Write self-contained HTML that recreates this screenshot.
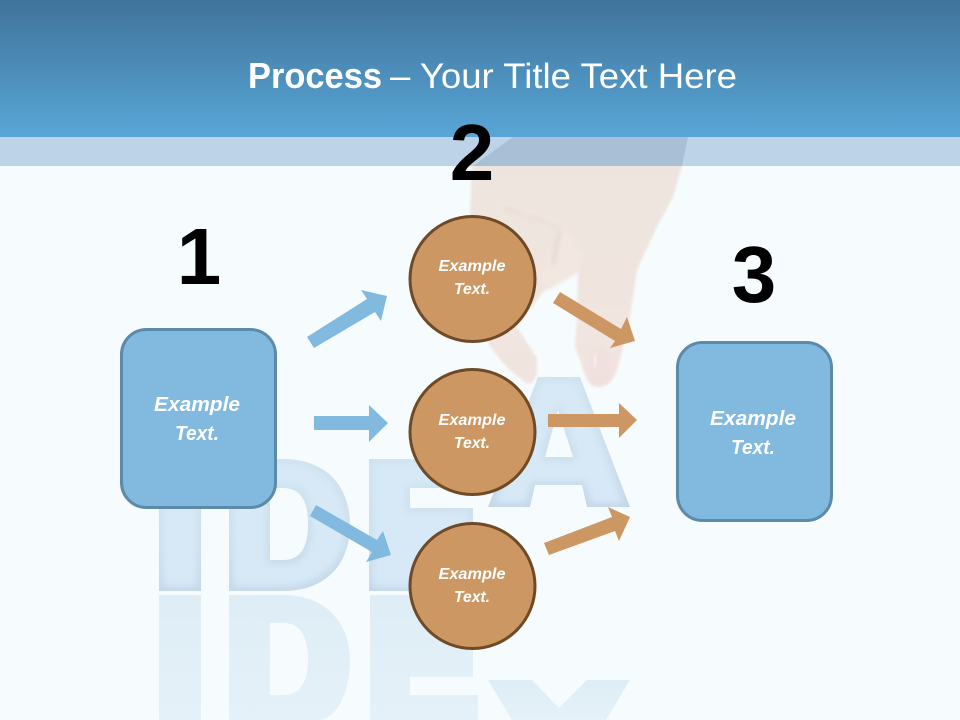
<!DOCTYPE html>
<html><head><meta charset="utf-8"><style>html,body{margin:0;padding:0;background:#f6fcfd}svg{display:block}</style></head>
<body>
<svg xmlns="http://www.w3.org/2000/svg" width="960" height="720" viewBox="0 0 960 720" font-family="'Liberation Sans',sans-serif">
<defs>
<linearGradient id="hd" x1="0" y1="0" x2="0" y2="1"><stop offset="0" stop-color="#40739a"/><stop offset="1" stop-color="#58a6d7"/></linearGradient>
<linearGradient id="hand" x1="0" y1="0" x2="0" y2="1"><stop offset="0" stop-color="#ece4de"/><stop offset=".5" stop-color="#efe5de"/><stop offset="1" stop-color="#f1e4e0"/></linearGradient>
<linearGradient id="let" x1="0" y1="0" x2="0" y2="1"><stop offset="0" stop-color="#cfe2f0"/><stop offset=".7" stop-color="#cbdeed"/><stop offset="1" stop-color="#c4d7e8"/></linearGradient>
<linearGradient id="ref" x1="0" y1="0" x2="0" y2="1"><stop offset="0" stop-color="#deedf6"/><stop offset="1" stop-color="#e5f1f8"/></linearGradient>
<filter id="b1" x="-10%" y="-10%" width="120%" height="120%"><feGaussianBlur stdDeviation="1.2"/></filter>
<filter id="b3" x="-40%" y="-40%" width="180%" height="180%"><feGaussianBlur stdDeviation="2.500"/></filter>
<filter id="bev" x="-5%" y="-5%" width="110%" height="110%">
<feMorphology in="SourceAlpha" operator="erode" radius="4"/>
<feGaussianBlur stdDeviation="4" result="a"/>
<feFlood flood-color="#d7e9f6"/>
<feComposite in2="a" operator="in"/>
<feComposite in2="SourceAlpha" operator="in" result="l"/>
<feMerge><feMergeNode in="SourceGraphic"/><feMergeNode in="l"/></feMerge>
</filter>
</defs>
<rect width="960" height="720" fill="#f6fcfd"/>

<!-- IDEA reflection -->
<g fill="url(#ref)" fill-rule="evenodd">
<rect x="159" y="595" width="42" height="125"/>
<path d="M229 595H283C325 595 350 622 350 660C350 695 335 720 318 720H229ZM270 623V695H283C300 695 308 682 308 660C308 636 300 623 283 623Z"/>
<path d="M370 595H473V677H410V695H478V720H370Z"/>
<path d="M488 680H532L559 708L587 680H630L606 720H512Z"/>
</g>
<!-- IDEA -->
<g fill="url(#let)" fill-rule="evenodd" filter="url(#bev)">
<rect x="159" y="458" width="42" height="133"/>
<path d="M229 459H283C325 459 350 485 350 525C350 565 325 591 283 591H229ZM270 488V560H283C300 560 308 548 308 524C308 500 300 488 283 488Z"/>
<path d="M369 459H473V488H410V508H473V591H369Z"/>
<path d="M538 377H580L630 507H587L582 485H535L530 507H488ZM558 410L545 457H573Z"/>
</g>
<!-- hand -->
<path d="M513 137L472 165L470 213L480 300L488 343C498 358 510 372 520 378C526 386 534 386 537 373L537 358L517 327L543 292L560 280L578 272L577 317L575 347L587 380C592 390 610 392 617 370L623 347L630 317L637 270L657 227L673 197L682 166L688 137Z" fill="url(#hand)" filter="url(#b1)"/>
<path d="M510 212C530 222 548 222 562 232C552 245 545 262 540 280L548 290L578 272L584 255C575 240 565 232 558 222C540 212 525 208 510 212Z" fill="#f3e7e1" filter="url(#b3)"/>
<path d="M503 208C520 214 545 220 560 228" fill="none" stroke="#e6dbd5" stroke-width="3" filter="url(#b3)"/>
<path d="M560 232C556 245 555 255 553 265" fill="none" stroke="#ddd2cd" stroke-width="2.500" filter="url(#b3)"/>
<ellipse cx="600" cy="366" rx="14" ry="19" fill="#f0e1df" filter="url(#b1)"/>
<path d="M596 354L594 367" stroke="#fbf4f3" stroke-width="2" fill="none" filter="url(#b1)"/>

<!-- header -->
<rect width="960" height="137" fill="url(#hd)"/>
<rect y="137" width="960" height="29" fill="#bdd4e8"/>
<path d="M513 137H688L682 166H473Z" fill="#a8bfd6"/>

<!-- title -->
<text x="248" y="88" font-size="36" font-weight="bold" fill="#fff" textLength="134" lengthAdjust="spacingAndGlyphs">Process</text>
<text x="390" y="88" font-size="35" fill="#fff" textLength="347" lengthAdjust="spacingAndGlyphs">– Your Title Text Here</text>

<!-- numbers -->
<g font-size="80" font-weight="bold" fill="#000" text-anchor="middle">
<text x="199" y="284">1</text>
<text x="472" y="180">2</text>
<text x="754" y="302">3</text>
</g>

<!-- boxes -->
<rect x="121.500" y="329.500" width="154" height="178" rx="25" fill="#82b9df" stroke="#5c8aa9" stroke-width="3"/>
<rect x="677.500" y="342.500" width="154" height="178" rx="25" fill="#82b9df" stroke="#5c8aa9" stroke-width="3"/>

<!-- circles -->
<g fill="#cd9763" stroke="#6f4a27" stroke-width="3">
<circle cx="472.500" cy="279" r="62.500"/>
<circle cx="472.500" cy="432" r="62.500"/>
<circle cx="472.500" cy="586" r="62.500"/>
</g>

<!-- blue arrows -->
<g fill="#81b9df">
<path d="M307 337L367 299L361 290L387 296L381 321L375 312L314 348Z"/>
<path d="M314 416H369V405L388 423L369 442V430H314Z"/>
<path d="M316 505L377 540L383 531L391 555L366 562L372 552L310 516Z"/>
</g>
<!-- orange arrows -->
<g fill="#cd9763">
<path d="M560 292L621 329L627 317L635 341L610 348L615 341L553 303Z"/>
<path d="M548 414H619V403L637 420L619 438V427H548Z"/>
<path d="M544 543L612 517L608 507L630 517L619 541L615 531L549 555Z"/>
</g>

<!-- labels -->
<g fill="#fff" font-weight="bold" font-style="italic" text-anchor="middle">
<g font-size="20">
<text x="197" y="411" textLength="86" lengthAdjust="spacingAndGlyphs">Example</text>
<text x="197" y="440" textLength="44" lengthAdjust="spacingAndGlyphs">Text.</text>
<text x="753" y="425" textLength="86" lengthAdjust="spacingAndGlyphs">Example</text>
<text x="753" y="454" textLength="44" lengthAdjust="spacingAndGlyphs">Text.</text>
</g>
<g font-size="16">
<text x="472" y="271" textLength="67" lengthAdjust="spacingAndGlyphs">Example</text>
<text x="472" y="294" textLength="36" lengthAdjust="spacingAndGlyphs">Text.</text>
<text x="472" y="425" textLength="67" lengthAdjust="spacingAndGlyphs">Example</text>
<text x="472" y="448" textLength="36" lengthAdjust="spacingAndGlyphs">Text.</text>
<text x="472" y="579" textLength="67" lengthAdjust="spacingAndGlyphs">Example</text>
<text x="472" y="602" textLength="36" lengthAdjust="spacingAndGlyphs">Text.</text>
</g>
</g>
</svg>
</body></html>
